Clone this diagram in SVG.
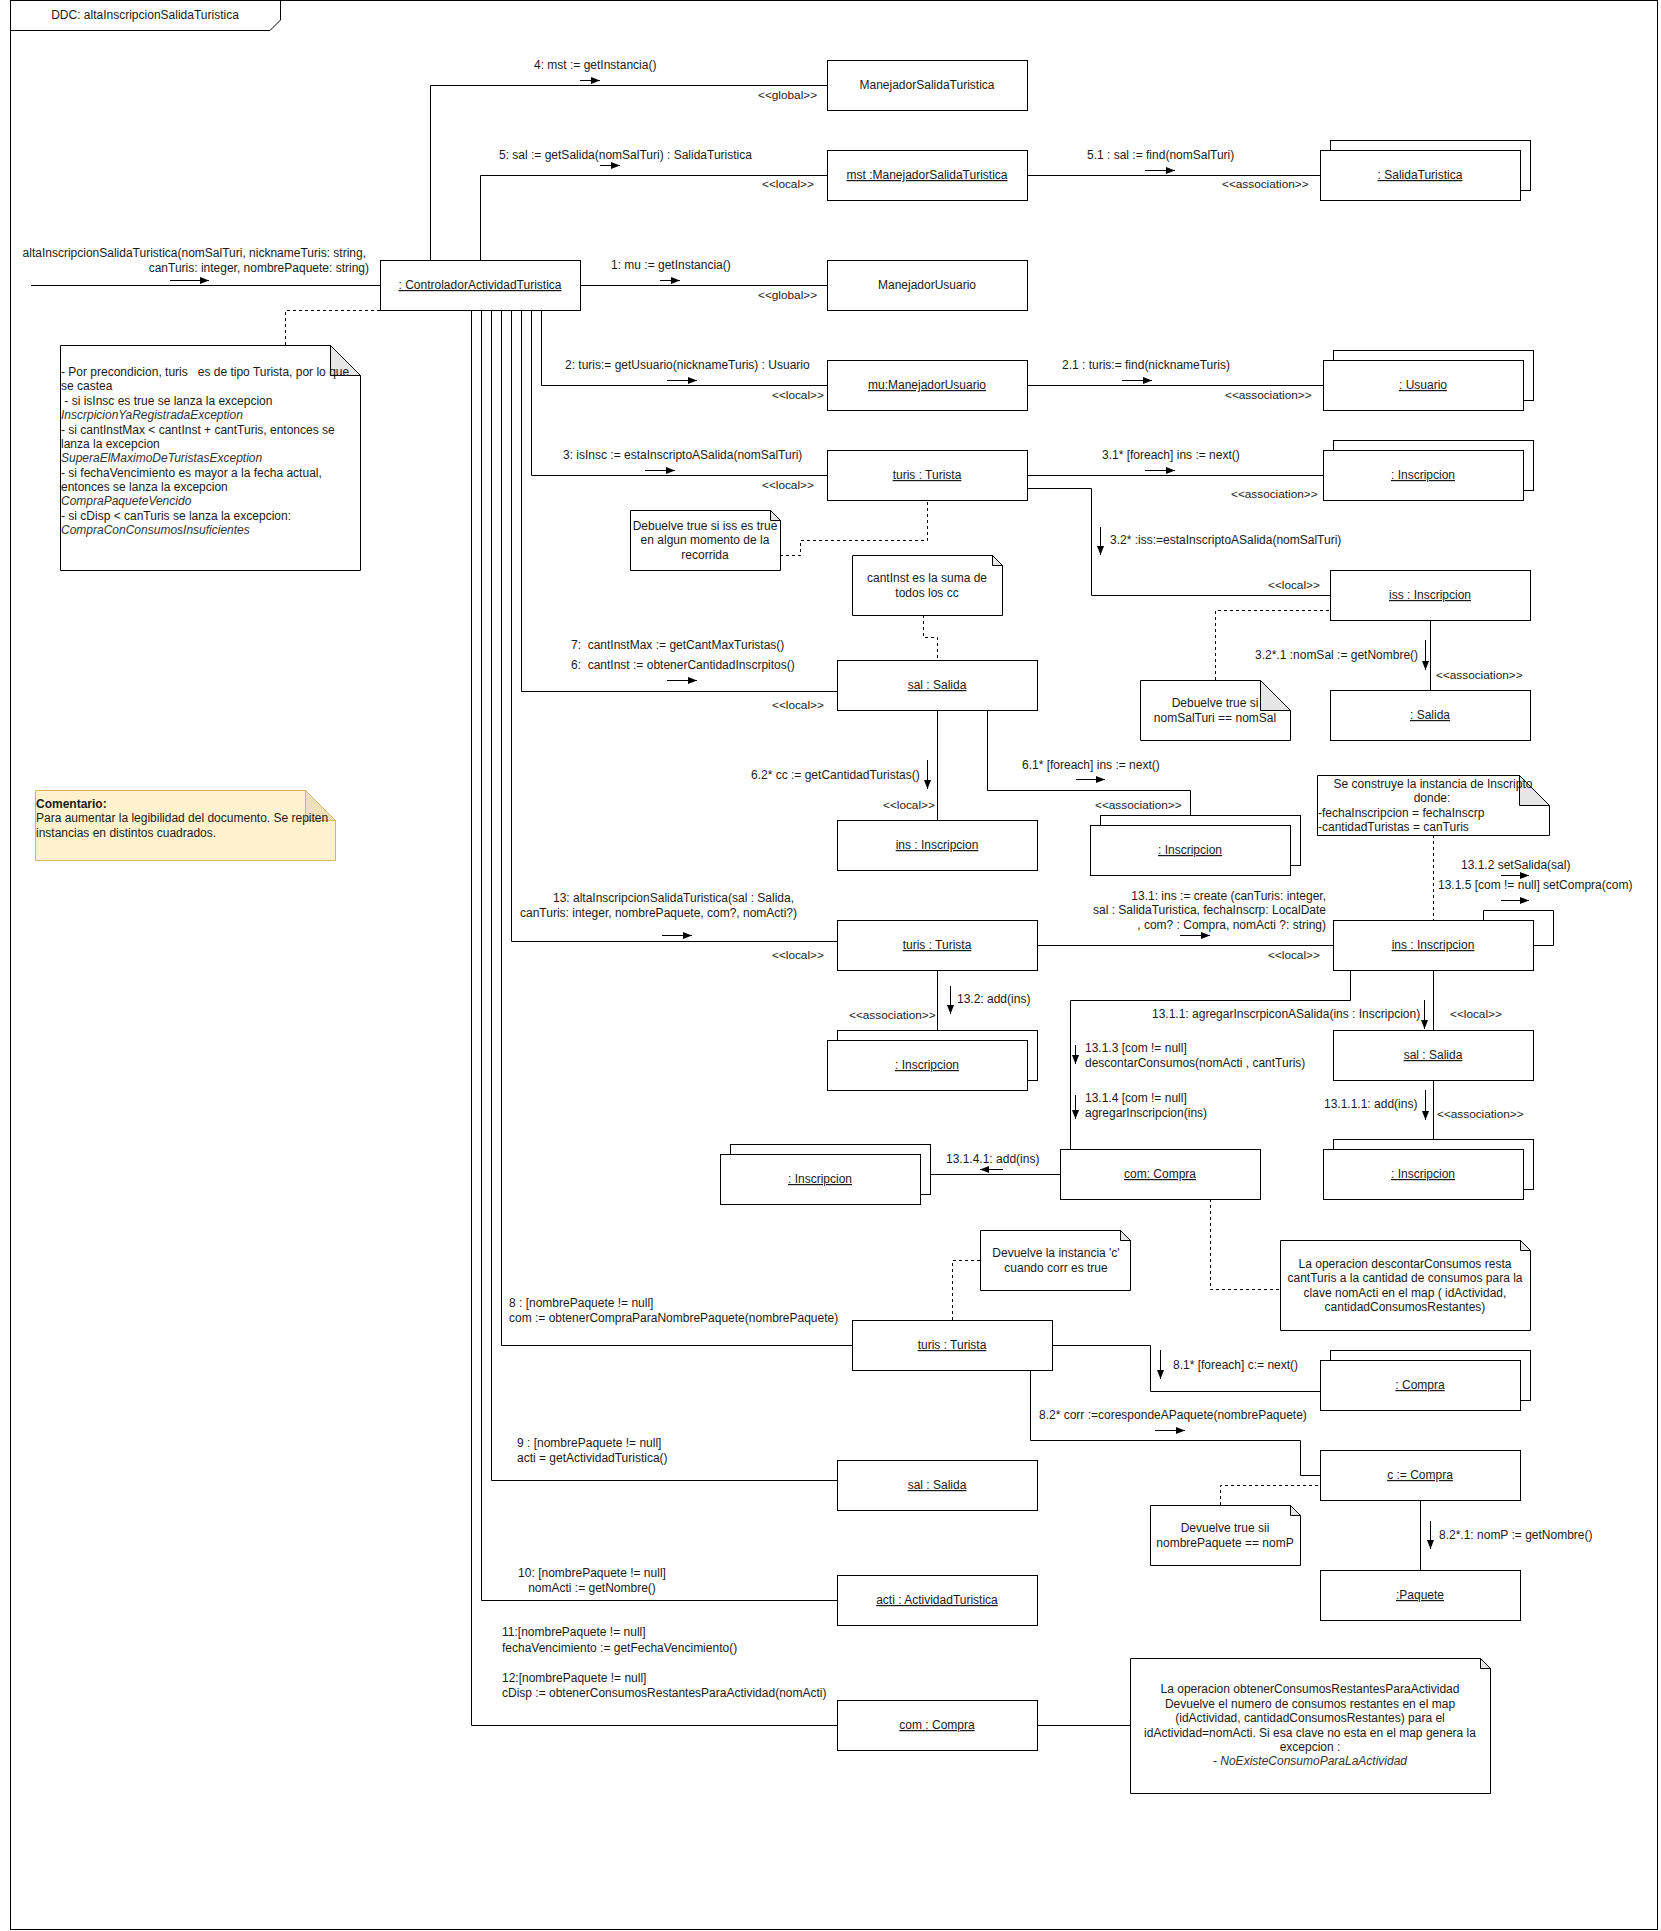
<svg xmlns="http://www.w3.org/2000/svg" width="1661" height="1931" viewBox="0 0 1661 1931">
<style>
.bg{fill:#fff}
.box{fill:#fff;stroke:#000;stroke-width:1}
.ln{fill:none;stroke:#000;stroke-width:1}
.dash{fill:none;stroke:#000;stroke-width:1;stroke-dasharray:3 3}
.note{fill:#fff;stroke:#000;stroke-width:1}
.fold{fill:#e6e6e6;stroke:#000;stroke-width:1}
.t{font-family:"Liberation Sans",Arial,sans-serif;font-size:12px;fill:#1a1a1a;white-space:pre}
.s{font-size:11.8px}
.m{text-anchor:middle}
.e{text-anchor:end}
.u{text-decoration:underline}
.i{font-style:italic;fill:#333}
.b{font-weight:bold}
.msg{stroke:#000;stroke-width:1;fill:none;marker-end:url(#ah)}
</style>
<defs>
<marker id="ah" markerWidth="9" markerHeight="7" refX="9" refY="3.5" orient="auto" markerUnits="userSpaceOnUse">
<path d="M0,0 L9,3.5 L0,7 Z" fill="#000"/>
</marker>
</defs>
<rect class="bg" x="0" y="0" width="1661" height="1931"/>
<g id="frame">
<rect class="ln" x="10.5" y="0.5" width="1647" height="1929"/>
<path class="ln" d="M10.5,30.5 H270 L280.5,20 V0.5"/>
<text class="t m" x="145" y="19">DDC: altaInscripcionSalidaTuristica</text>
</g>

<g id="connectors">
<path class="ln" d="M31,285.5 H380"/>
<path class="ln" d="M430.5,261 V85.5 H827"/>
<path class="ln" d="M480.5,261 V175.5 H827"/>
<path class="ln" d="M1027,175.5 H1320"/>
<path class="ln" d="M580,285.5 H827"/>
<path class="ln" d="M541.5,310 V385.5 H827"/>
<path class="ln" d="M1027,385.5 H1323"/>
<path class="ln" d="M531.5,310 V475.5 H827"/>
<path class="ln" d="M1027,475.5 H1323"/>
<path class="ln" d="M1027,488.5 H1091.5 V595.5 H1330"/>
<path class="ln" d="M1430.5,620 V690"/>
<path class="ln" d="M521.5,310 V691.5 H837"/>
<path class="ln" d="M937.5,710 V820"/>
<path class="ln" d="M987.5,710 V790.5 H1190.5 V815"/>
<path class="ln" d="M511.5,310 V941.5 H837"/>
<path class="ln" d="M1037,945.5 H1333"/>
<path class="ln" d="M1483.5,920 V910.5 H1553.5 V945.5 H1534"/>
<path class="ln" d="M937.5,970 V1030"/>
<path class="ln" d="M1433.5,970 V1030"/>
<path class="ln" d="M1433.5,1080 V1139"/>
<path class="ln" d="M1350.5,970 V1000.5 H1070.5 V1149"/>
<path class="ln" d="M1060,1174.5 H930"/>
<path class="ln" d="M501.5,310 V1345.5 H852"/>
<path class="ln" d="M1052,1345.5 H1150.5 V1391.5 H1320"/>
<path class="ln" d="M1030.5,1370 V1440.5 H1300.5 V1475.5 H1320"/>
<path class="ln" d="M1420.5,1500 V1570"/>
<path class="ln" d="M491.5,310 V1480.5 H837"/>
<path class="ln" d="M481.5,310 V1600.5 H837"/>
<path class="ln" d="M471.5,310 V1725.5 H837"/>
<path class="ln" d="M1037,1725.5 H1130"/>
<path class="dash" d="M380,310.5 H285.5 V345"/>
<path class="dash" d="M780,555.5 H800.5 V540.5 H927.5 V500"/>
<path class="dash" d="M923.5,615 V637.5 H937.5 V660"/>
<path class="dash" d="M1215.5,680 V610.5 H1330"/>
<path class="dash" d="M1433.5,835 V920"/>
<path class="dash" d="M1210.5,1199 V1289.5 H1280"/>
<path class="dash" d="M980,1260.5 H952.5 V1320"/>
<path class="dash" d="M1220.5,1505 V1485.5 H1320"/>
<!-- message arrows -->
<line class="msg" x1="170" y1="280.5" x2="209" y2="280.5"/>
<line class="msg" x1="580" y1="80.5" x2="600" y2="80.5"/>
<line class="msg" x1="600" y1="165.5" x2="620" y2="165.5"/>
<line class="msg" x1="1145" y1="170.5" x2="1175" y2="170.5"/>
<line class="msg" x1="660" y1="280.5" x2="680" y2="280.5"/>
<line class="msg" x1="667" y1="380.5" x2="697" y2="380.5"/>
<line class="msg" x1="1122" y1="380.5" x2="1152" y2="380.5"/>
<line class="msg" x1="645" y1="470.5" x2="675" y2="470.5"/>
<line class="msg" x1="1145" y1="470.5" x2="1175" y2="470.5"/>
<line class="msg" x1="1100.5" y1="527" x2="1100.5" y2="555"/>
<line class="msg" x1="1425.5" y1="640" x2="1425.5" y2="670"/>
<line class="msg" x1="667" y1="680.5" x2="697" y2="680.5"/>
<line class="msg" x1="927.5" y1="760" x2="927.5" y2="789"/>
<line class="msg" x1="1076" y1="779.5" x2="1105" y2="779.5"/>
<line class="msg" x1="662" y1="935.5" x2="692" y2="935.5"/>
<line class="msg" x1="1180" y1="935.5" x2="1210" y2="935.5"/>
<line class="msg" x1="1501" y1="875.5" x2="1529" y2="875.5"/>
<line class="msg" x1="1501" y1="900.5" x2="1529" y2="900.5"/>
<line class="msg" x1="950.5" y1="986" x2="950.5" y2="1014"/>
<line class="msg" x1="1424.5" y1="1000" x2="1424.5" y2="1029"/>
<line class="msg" x1="1425.5" y1="1090" x2="1425.5" y2="1120"/>
<line class="msg" x1="1075.5" y1="1045" x2="1075.5" y2="1064"/>
<line class="msg" x1="1075.5" y1="1095" x2="1075.5" y2="1119"/>
<line class="msg" x1="1003" y1="1169.5" x2="980" y2="1169.5"/>
<line class="msg" x1="1160.5" y1="1350" x2="1160.5" y2="1379"/>
<line class="msg" x1="1155" y1="1430.5" x2="1185" y2="1430.5"/>
<line class="msg" x1="1430.5" y1="1521" x2="1430.5" y2="1549"/>
<!-- connector labels -->
<text class="t e" x="366" y="257">altaInscripcionSalidaTuristica(nomSalTuri, nicknameTuris: string,</text>
<text class="t e" x="369" y="272">canTuris: integer, nombrePaquete: string)</text>
<text class="t" x="534" y="69">4: mst := getInstancia()</text>
<text class="t s" x="758" y="99">&lt;&lt;global&gt;&gt;</text>
<text class="t" x="499" y="159">5: sal := getSalida(nomSalTuri) : SalidaTuristica</text>
<text class="t s" x="762" y="188">&lt;&lt;local&gt;&gt;</text>
<text class="t" x="1087" y="159">5.1 : sal := find(nomSalTuri)</text>
<text class="t s" x="1222" y="188">&lt;&lt;association&gt;&gt;</text>
<text class="t" x="611" y="269">1: mu := getInstancia()</text>
<text class="t s" x="758" y="299">&lt;&lt;global&gt;&gt;</text>
<text class="t" x="565" y="369">2: turis:= getUsuario(nicknameTuris) : Usuario</text>
<text class="t s" x="772" y="399">&lt;&lt;local&gt;&gt;</text>
<text class="t" x="1062" y="369">2.1 : turis:= find(nicknameTuris)</text>
<text class="t s" x="1225" y="399">&lt;&lt;association&gt;&gt;</text>
<text class="t" x="563" y="459">3: isInsc := estaInscriptoASalida(nomSalTuri)</text>
<text class="t s" x="762" y="489">&lt;&lt;local&gt;&gt;</text>
<text class="t" x="1102" y="459">3.1* [foreach] ins := next()</text>
<text class="t s" x="1231" y="498">&lt;&lt;association&gt;&gt;</text>
<text class="t" x="1110" y="544">3.2* :iss:=estaInscriptoASalida(nomSalTuri)</text>
<text class="t s" x="1268" y="589">&lt;&lt;local&gt;&gt;</text>
<text class="t" x="1255" y="659">3.2*.1 :nomSal := getNombre()</text>
<text class="t s" x="1436" y="679">&lt;&lt;association&gt;&gt;</text>
<text class="t" x="571" y="649">7:  cantInstMax := getCantMaxTuristas()</text>
<text class="t" x="571" y="669">6:  cantInst := obtenerCantidadInscrpitos()</text>
<text class="t s" x="772" y="709">&lt;&lt;local&gt;&gt;</text>
<text class="t" x="751" y="779">6.2* cc := getCantidadTuristas()</text>
<text class="t s" x="883" y="809">&lt;&lt;local&gt;&gt;</text>
<text class="t" x="1022" y="769">6.1* [foreach] ins := next()</text>
<text class="t s" x="1095" y="809">&lt;&lt;association&gt;&gt;</text>
<text class="t" x="553" y="902">13: altaInscripcionSalidaTuristica(sal : Salida,</text>
<text class="t" x="520" y="917">canTuris: integer, nombrePaquete, com?, nomActi?)</text>
<text class="t s" x="772" y="959">&lt;&lt;local&gt;&gt;</text>
<text class="t e" x="1326" y="900">13.1: ins := create (canTuris: integer,</text>
<text class="t e" x="1326" y="914">sal : SalidaTuristica, fechaInscrp: LocalDate</text>
<text class="t e" x="1326" y="929">, com? : Compra, nomActi ?: string)</text>
<text class="t s" x="1268" y="959">&lt;&lt;local&gt;&gt;</text>
<text class="t" x="1461" y="869">13.1.2 setSalida(sal)</text>
<text class="t" x="1438" y="889">13.1.5 [com != null] setCompra(com)</text>
<text class="t" x="957" y="1003">13.2: add(ins)</text>
<text class="t s" x="849" y="1019">&lt;&lt;association&gt;&gt;</text>
<text class="t" x="1152" y="1018">13.1.1: agregarInscrpiconASalida(ins : Inscripcion)</text>
<text class="t s" x="1450" y="1018">&lt;&lt;local&gt;&gt;</text>
<text class="t" x="1324" y="1108">13.1.1.1: add(ins)</text>
<text class="t s" x="1437" y="1118">&lt;&lt;association&gt;&gt;</text>
<text class="t" x="1085" y="1052">13.1.3 [com != null]</text>
<text class="t" x="1085" y="1067">descontarConsumos(nomActi , cantTuris)</text>
<text class="t" x="1085" y="1102">13.1.4 [com != null]</text>
<text class="t" x="1085" y="1117">agregarInscripcion(ins)</text>
<text class="t" x="946" y="1163">13.1.4.1: add(ins)</text>
<text class="t" x="509" y="1307">8 : [nombrePaquete != null]</text>
<text class="t" x="509" y="1322">com := obtenerCompraParaNombrePaquete(nombrePaquete)</text>
<text class="t" x="1173" y="1369">8.1* [foreach] c:= next()</text>
<text class="t" x="1039" y="1419">8.2* corr :=corespondeAPaquete(nombrePaquete)</text>
<text class="t" x="1439" y="1539">8.2*.1: nomP := getNombre()</text>
<text class="t" x="517" y="1447">9 : [nombrePaquete != null]</text>
<text class="t" x="517" y="1462">acti = getActividadTuristica()</text>
<text class="t m" x="592" y="1577">10: [nombrePaquete != null]</text>
<text class="t m" x="592" y="1592">nomActi := getNombre()</text>
<text class="t" x="502" y="1636">11:[nombrePaquete != null]</text>
<text class="t" x="502" y="1652">fechaVencimiento := getFechaVencimiento()</text>
<text class="t" x="502" y="1682">12:[nombrePaquete != null]</text>
<text class="t" x="502" y="1697">cDisp := obtenerConsumosRestantesParaActividad(nomActi)</text>
</g>

<g id="n_controlador"><rect class="box" x="380.5" y="260.5" width="200" height="50"/><text class="t m u" x="480" y="289">: ControladorActividadTuristica</text></g>
<g id="n_manejadorSalida"><rect class="box" x="827.5" y="60.5" width="200" height="50"/><text class="t m" x="927" y="89">ManejadorSalidaTuristica</text></g>
<g id="n_mst"><rect class="box" x="827.5" y="150.5" width="200" height="50"/><text class="t m u" x="927" y="179">mst :ManejadorSalidaTuristica</text></g>
<g id="n_salidaTuristica"><rect class="box" x="1330.5" y="140.5" width="200" height="50"/><rect class="box" x="1320.5" y="150.5" width="200" height="50"/><text class="t m u" x="1420" y="179">: SalidaTuristica</text></g>
<g id="n_manejadorUsuario"><rect class="box" x="827.5" y="260.5" width="200" height="50"/><text class="t m" x="927" y="289">ManejadorUsuario</text></g>
<g id="n_mu"><rect class="box" x="827.5" y="360.5" width="200" height="50"/><text class="t m u" x="927" y="389">mu:ManejadorUsuario</text></g>
<g id="n_usuario"><rect class="box" x="1333.5" y="350.5" width="200" height="50"/><rect class="box" x="1323.5" y="360.5" width="200" height="50"/><text class="t m u" x="1423" y="389">: Usuario</text></g>
<g id="n_turis1"><rect class="box" x="827.5" y="450.5" width="200" height="50"/><text class="t m u" x="927" y="479">turis : Turista</text></g>
<g id="n_inscripcion31"><rect class="box" x="1333.5" y="440.5" width="200" height="50"/><rect class="box" x="1323.5" y="450.5" width="200" height="50"/><text class="t m u" x="1423" y="479">: Inscripcion</text></g>
<g id="n_iss"><rect class="box" x="1330.5" y="570.5" width="200" height="50"/><text class="t m u" x="1430" y="599">iss : Inscripcion</text></g>
<g id="n_salida321"><rect class="box" x="1330.5" y="690.5" width="200" height="50"/><text class="t m u" x="1430" y="719">: Salida</text></g>
<g id="n_sal1"><rect class="box" x="837.5" y="660.5" width="200" height="50"/><text class="t m u" x="937" y="689">sal : Salida</text></g>
<g id="n_ins62"><rect class="box" x="837.5" y="820.5" width="200" height="50"/><text class="t m u" x="937" y="849">ins : Inscripcion</text></g>
<g id="n_inscripcion61"><rect class="box" x="1100.5" y="815.5" width="200" height="50"/><rect class="box" x="1090.5" y="825.5" width="200" height="50"/><text class="t m u" x="1190" y="854">: Inscripcion</text></g>
<g id="n_turis2"><rect class="box" x="837.5" y="920.5" width="200" height="50"/><text class="t m u" x="937" y="949">turis : Turista</text></g>
<g id="n_ins131"><rect class="box" x="1333.5" y="920.5" width="200" height="50"/><text class="t m u" x="1433" y="949">ins : Inscripcion</text></g>
<g id="n_inscripcion132"><rect class="box" x="837.5" y="1030.5" width="200" height="50"/><rect class="box" x="827.5" y="1040.5" width="200" height="50"/><text class="t m u" x="927" y="1069">: Inscripcion</text></g>
<g id="n_sal1311"><rect class="box" x="1333.5" y="1030.5" width="200" height="50"/><text class="t m u" x="1433" y="1059">sal : Salida</text></g>
<g id="n_inscripcion13111"><rect class="box" x="1333.5" y="1139.5" width="200" height="50"/><rect class="box" x="1323.5" y="1149.5" width="200" height="50"/><text class="t m u" x="1423" y="1178">: Inscripcion</text></g>
<g id="n_com1"><rect class="box" x="1060.5" y="1149.5" width="200" height="50"/><text class="t m u" x="1160" y="1178">com: Compra</text></g>
<g id="n_inscripcion13141"><rect class="box" x="730.5" y="1144.5" width="200" height="50"/><rect class="box" x="720.5" y="1154.5" width="200" height="50"/><text class="t m u" x="820" y="1183">: Inscripcion</text></g>
<g id="n_turis3"><rect class="box" x="852.5" y="1320.5" width="200" height="50"/><text class="t m u" x="952" y="1349">turis : Turista</text></g>
<g id="n_compras"><rect class="box" x="1330.5" y="1350.5" width="200" height="50"/><rect class="box" x="1320.5" y="1360.5" width="200" height="50"/><text class="t m u" x="1420" y="1389">: Compra</text></g>
<g id="n_c"><rect class="box" x="1320.5" y="1450.5" width="200" height="50"/><text class="t m u" x="1420" y="1479">c := Compra</text></g>
<g id="n_paquete"><rect class="box" x="1320.5" y="1570.5" width="200" height="50"/><text class="t m u" x="1420" y="1599">:Paquete</text></g>
<g id="n_sal3"><rect class="box" x="837.5" y="1460.5" width="200" height="50"/><text class="t m u" x="937" y="1489">sal : Salida</text></g>
<g id="n_acti"><rect class="box" x="837.5" y="1575.5" width="200" height="50"/><text class="t m u" x="937" y="1604">acti : ActividadTuristica</text></g>
<g id="n_com2"><rect class="box" x="837.5" y="1700.5" width="200" height="50"/><text class="t m u" x="937" y="1729">com : Compra</text></g>

<g id="note_precond">
<path class="note" d="M60.5,345.5 H330.5 L360.5,375.5 V570.5 H60.5 Z"/>
<path class="fold" d="M330.5,345.5 V375.5 H360.5 Z"/>
<text class="t" x="61" y="376">- Por precondicion, turis   es de tipo Turista, por lo que</text>
<text class="t" x="61" y="390">se castea</text>
<text class="t" x="61" y="405"> - si isInsc es true se lanza la excepcion</text>
<text class="t i" x="61" y="419">InscrpicionYaRegistradaException</text>
<text class="t" x="61" y="434">- si cantInstMax &lt; cantInst + cantTuris, entonces se</text>
<text class="t" x="61" y="448">lanza la excepcion</text>
<text class="t i" x="61" y="462">SuperaElMaximoDeTuristasException</text>
<text class="t" x="61" y="477">- si fechaVencimiento es mayor a la fecha actual,</text>
<text class="t" x="61" y="491">entonces se lanza la excepcion</text>
<text class="t i" x="61" y="505">CompraPaqueteVencido</text>
<text class="t" x="61" y="520">- si cDisp &lt; canTuris se lanza la excepcion:</text>
<text class="t i" x="61" y="534">CompraConConsumosInsuficientes</text>
</g>
<g id="note_comentario">
<path d="M35.5,790.5 H305.5 L335.5,820.5 V860.5 H35.5 Z" fill="#fff2cc" stroke="#d6b656"/>
<path d="M305.5,790.5 V820.5 H335.5 Z" fill="#ede0ba" stroke="#d6b656"/>
<text class="t b" x="36" y="808">Comentario:</text>
<text class="t" x="36" y="822">Para aumentar la legibilidad del documento. Se repiten</text>
<text class="t" x="36" y="837">instancias en distintos cuadrados.</text>
</g>
<g id="note_iss">
<path class="note" d="M630.5,510.5 H770.5 L780.5,520.5 V570.5 H630.5 Z"/>
<path class="fold" d="M770.5,510.5 V520.5 H780.5 Z"/>
<text class="t m" x="705" y="530">Debuelve true si iss es true</text>
<text class="t m" x="705" y="544">en algun momento de la</text>
<text class="t m" x="705" y="559">recorrida</text>
</g>
<g id="note_cantInst">
<path class="note" d="M852.5,555.5 H992.5 L1002.5,565.5 V615.5 H852.5 Z"/>
<path class="fold" d="M992.5,555.5 V565.5 H1002.5 Z"/>
<text class="t m" x="927" y="582">cantInst es la suma de</text>
<text class="t m" x="927" y="597">todos los cc</text>
</g>
<g id="note_nomSal">
<path class="note" d="M1140.5,680.5 H1260.5 L1290.5,710.5 V740.5 H1140.5 Z"/>
<path class="fold" d="M1260.5,680.5 V710.5 H1290.5 Z"/>
<text class="t m" x="1215" y="707">Debuelve true si</text>
<text class="t m" x="1215" y="722">nomSalTuri == nomSal</text>
</g>
<g id="note_construye">
<path class="note" d="M1317.5,775.5 H1519.5 L1549.5,805.5 V835.5 H1317.5 Z"/>
<path class="fold" d="M1519.5,775.5 V805.5 H1549.5 Z"/>
<text class="t m" x="1433" y="788">Se construye la instancia de Inscripto</text>
<text class="t m" x="1432" y="802">donde:</text>
<text class="t" x="1318" y="817">-fechaInscripcion = fechaInscrp</text>
<text class="t" x="1318" y="831">-cantidadTuristas = canTuris</text>
</g>
<g id="note_descontar">
<path class="note" d="M1280.5,1240.5 H1520.5 L1530.5,1250.5 V1330.5 H1280.5 Z"/>
<path class="fold" d="M1520.5,1240.5 V1250.5 H1530.5 Z"/>
<text class="t m" x="1405" y="1268">La operacion descontarConsumos resta</text>
<text class="t m" x="1405" y="1282">cantTuris a la cantidad de consumos para la</text>
<text class="t m" x="1405" y="1297">clave nomActi en el map ( idActividad,</text>
<text class="t m" x="1405" y="1311">cantidadConsumosRestantes)</text>
</g>
<g id="note_instancia">
<path class="note" d="M980.5,1230.5 H1120.5 L1130.5,1240.5 V1290.5 H980.5 Z"/>
<path class="fold" d="M1120.5,1230.5 V1240.5 H1130.5 Z"/>
<text class="t m" x="1056" y="1257">Devuelve la instancia 'c'</text>
<text class="t m" x="1056" y="1272">cuando corr es true</text>
</g>
<g id="note_nomP">
<path class="note" d="M1150.5,1505.5 H1290.5 L1300.5,1515.5 V1565.5 H1150.5 Z"/>
<path class="fold" d="M1290.5,1505.5 V1515.5 H1300.5 Z"/>
<text class="t m" x="1225" y="1532">Devuelve true sii</text>
<text class="t m" x="1225" y="1547">nombrePaquete == nomP</text>
</g>
<g id="note_obtener">
<path class="note" d="M1130.5,1658.5 H1480.5 L1490.5,1668.5 V1793.5 H1130.5 Z" stroke="#555"/>
<path class="fold" d="M1480.5,1658.5 V1668.5 H1490.5 Z" stroke="#555"/>
<text class="t m" x="1310" y="1693">La operacion obtenerConsumosRestantesParaActividad</text>
<text class="t m" x="1310" y="1708">Devuelve el numero de consumos restantes en el map</text>
<text class="t m" x="1310" y="1722">(idActividad, cantidadConsumosRestantes) para el</text>
<text class="t m" x="1310" y="1737">idActividad=nomActi. Si esa clave no esta en el map genera la</text>
<text class="t m" x="1310" y="1751">excepcion :</text>
<text class="t m" x="1310" y="1765">- <tspan class="i">NoExisteConsumoParaLaActividad</tspan></text>
</g>
</svg>
